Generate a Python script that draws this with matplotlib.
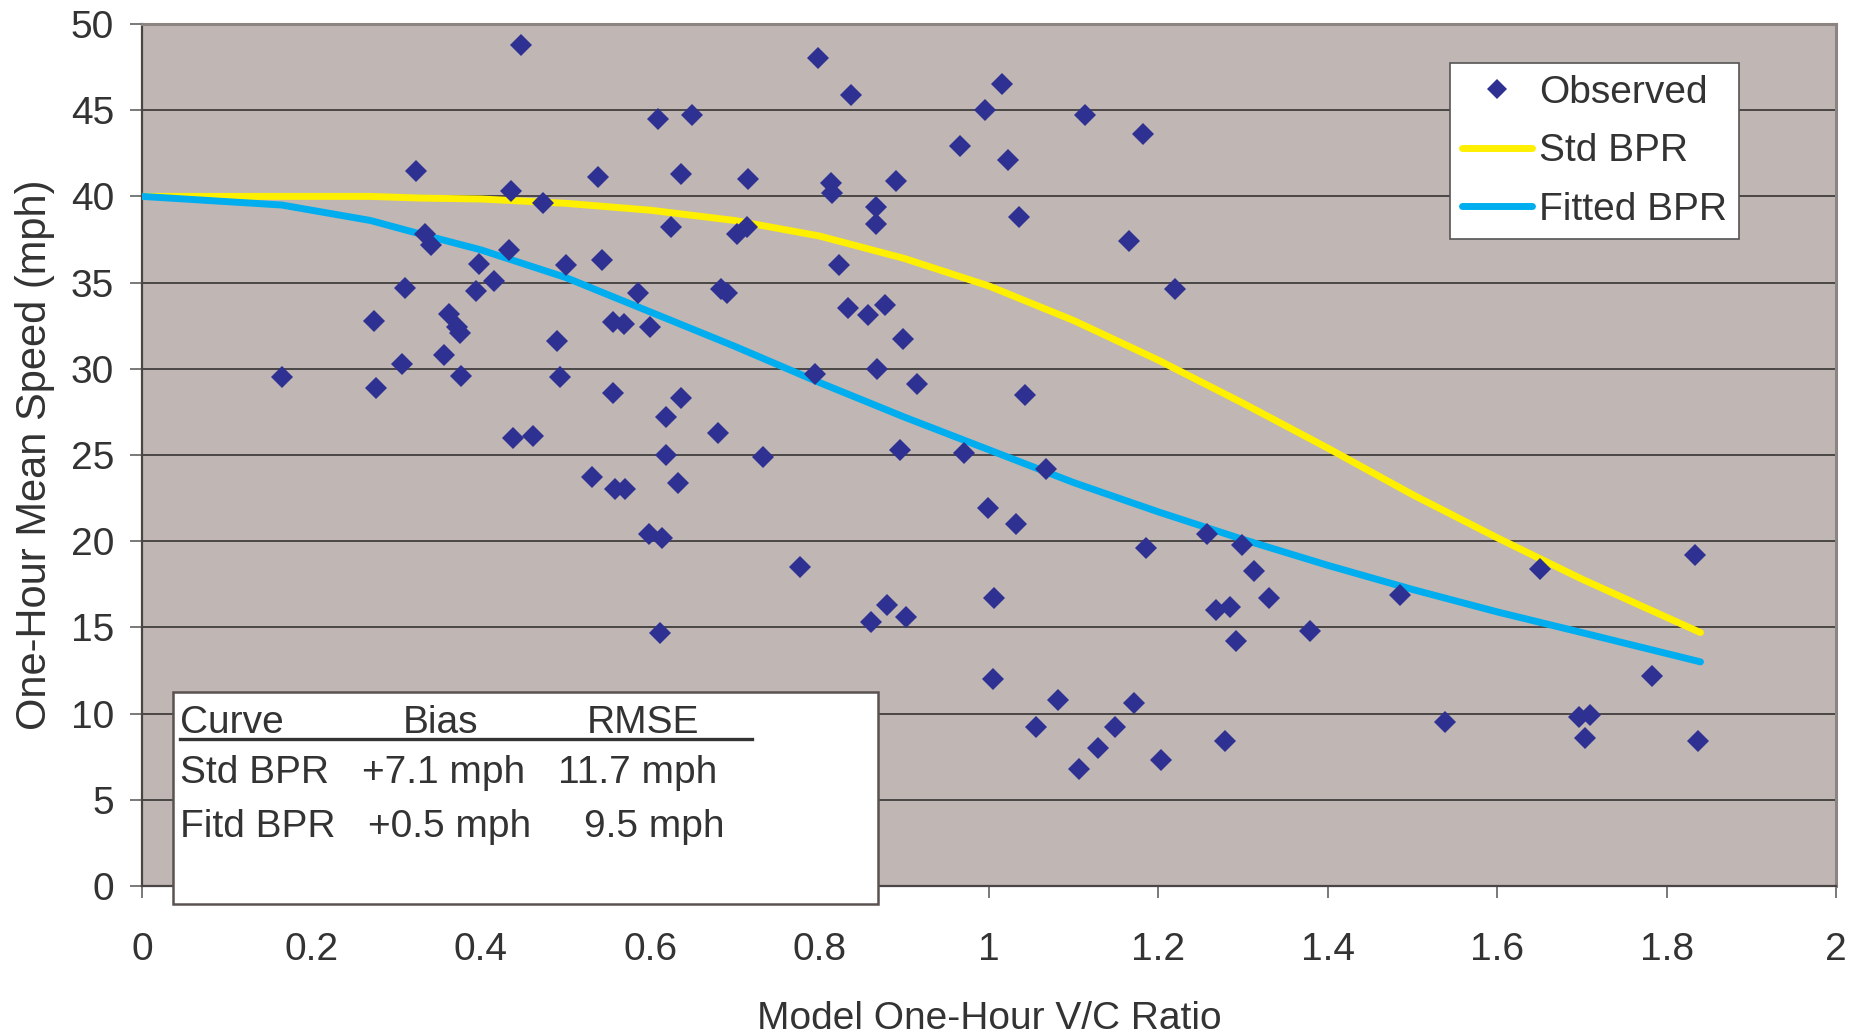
import matplotlib
matplotlib.use('Agg')
import matplotlib.pyplot as plt
from matplotlib.patches import Rectangle
from matplotlib.lines import Line2D

plt.rcParams['font.family'] = ['Liberation Sans', 'DejaVu Sans']

# ---------------- data ----------------
obs_x = [0.165, 0.274, 0.276, 0.307, 0.310, 0.324, 0.334, 0.341, 0.357, 0.363,
         0.372, 0.376, 0.377, 0.394, 0.398, 0.415, 0.433, 0.436, 0.438, 0.448,
         0.462, 0.474, 0.490, 0.494, 0.501, 0.531, 0.538, 0.543, 0.556, 0.556,
         0.559, 0.570, 0.569, 0.586, 0.600, 0.598, 0.609, 0.611, 0.614, 0.619,
         0.619, 0.624, 0.633, 0.636, 0.636, 0.649, 0.680, 0.684, 0.691, 0.702,
         0.714, 0.716, 0.733, 0.777, 0.795, 0.798, 0.814, 0.815, 0.823, 0.833,
         0.837, 0.857, 0.861, 0.866, 0.867, 0.868, 0.877, 0.880, 0.890, 0.895,
         0.899, 0.902, 0.915, 0.966, 0.970, 0.995, 0.999, 1.006, 1.005, 1.015,
         1.022, 1.032, 1.036, 1.043, 1.056, 1.067, 1.081, 1.106, 1.113, 1.129,
         1.149, 1.165, 1.171, 1.182, 1.185, 1.203, 1.220, 1.257, 1.268, 1.285,
         1.279, 1.292, 1.299, 1.313, 1.330, 1.379, 1.485, 1.538, 1.651, 1.697,
         1.709, 1.704, 1.783, 1.833, 1.837]
obs_y = [29.5, 32.8, 28.9, 30.3, 34.7, 41.5, 37.8, 37.2, 30.8, 33.2,
         32.4, 32.1, 29.6, 34.5, 36.1, 35.1, 36.9, 40.3, 26.0, 48.8,
         26.1, 39.6, 31.6, 29.5, 36.0, 23.7, 41.1, 36.3, 32.7, 28.6,
         23.0, 23.0, 32.6, 34.4, 32.4, 20.4, 44.5, 14.7, 20.2, 27.2,
         25.0, 38.2, 23.4, 28.3, 41.3, 44.7, 26.3, 34.6, 34.4, 37.8,
         38.2, 41.0, 24.9, 18.5, 29.7, 48.0, 40.8, 40.2, 36.0, 33.5,
         45.9, 33.1, 15.3, 39.4, 38.4, 30.0, 33.7, 16.3, 40.9, 25.3,
         31.7, 15.6, 29.1, 42.9, 25.1, 45.0, 21.9, 16.7, 12.0, 46.5,
         42.1, 21.0, 38.8, 28.5, 9.2, 24.2, 10.8, 6.8, 44.7, 8.0,
         9.2, 37.4, 10.6, 43.6, 19.6, 7.3, 34.6, 20.4, 16.0, 16.2,
         8.4, 14.2, 19.8, 18.3, 16.7, 14.8, 16.9, 9.5, 18.4, 9.8,
         9.9, 8.6, 12.2, 19.2, 8.4]

curve_x = [0, 0.165, 0.27, 0.33, 0.4, 0.5, 0.6, 0.7, 0.8, 0.9, 1.0,
           1.1, 1.2, 1.3, 1.4, 1.5, 1.6, 1.7, 1.84]
std_bpr = [40, 40, 40, 39.9, 39.85, 39.6, 39.2, 38.6, 37.7, 36.4, 34.8,
           32.8, 30.5, 28.0, 25.4, 22.7, 20.2, 17.8, 14.7]
fitted_bpr = [40, 39.5, 38.6, 37.8, 36.9, 35.3, 33.3, 31.3, 29.2, 27.2, 25.3,
              23.4, 21.7, 20.1, 18.6, 17.2, 15.9, 14.7, 13.0]

x_ticks = [0, 0.2, 0.4, 0.6, 0.8, 1.0, 1.2, 1.4, 1.6, 1.8, 2.0]
x_tick_labels = ['0', '0.2', '0.4', '0.6', '0.8', '1', '1.2', '1.4', '1.6', '1.8', '2']
y_ticks = [0, 5, 10, 15, 20, 25, 30, 35, 40, 45, 50]

table_header = ['Curve', 'Bias', 'RMSE']
table_curves = ['Std BPR', 'Fitd BPR']
table_bias = ['+7.1 mph', '+0.5 mph']
table_rmse = ['11.7 mph', '9.5 mph']

# ---------------- figure ----------------
W, H = 1869, 1036
fig = plt.figure(figsize=(W / 100, H / 100), dpi=100)
fig.patch.set_facecolor('white')

L, R, T, B = 142, 1836, 24, 886
ax = fig.add_axes([L / W, 1 - B / H, (R - L) / W, (B - T) / H])
ax.set_facecolor('#C0B6B3')

TXT = '#333333'
FS = 28

ax.set_xlim(0, 2)
ax.set_ylim(0, 50)
ax.set_xticks(x_ticks)
ax.set_xticklabels(x_tick_labels)
ax.set_yticks(y_ticks)
ax.yaxis.grid(True, color='#4A4646', linewidth=1.4)
ax.xaxis.grid(False)
ax.set_axisbelow(True)

ax.tick_params(axis='both', direction='out', length=8.6, width=1.1,
               color='#555555', labelsize=FS, labelcolor=TXT)
ax.tick_params(axis='x', pad=24.5)
ax.tick_params(axis='y', pad=11.5)

for s in ['left', 'bottom']:
    ax.spines[s].set_color('#4A4444')
    ax.spines[s].set_linewidth(1.6)
for s in ['top', 'right']:
    ax.spines[s].set_color('#8C8481')
    ax.spines[s].set_linewidth(2.2)

ax.plot(curve_x, std_bpr, color='#FFF000', lw=5.0, solid_capstyle='round',
        solid_joinstyle='round', label='Std BPR', zorder=3)
ax.plot(curve_x, fitted_bpr, color='#00AEEF', lw=5.0, solid_capstyle='round',
        solid_joinstyle='round', label='Fitted BPR', zorder=3)
ax.plot(obs_x, obs_y, linestyle='none', marker='D', ms=11.5, color='#2E3192',
        mec='#2E3192', mew=0, label='Observed', zorder=4)

handles, labels = ax.get_legend_handles_labels()
order = [2, 0, 1]
leg = ax.legend([handles[i] for i in order], [labels[i] for i in order],
                loc='upper left', bbox_to_anchor=((1450 - L) / (R - L), (B - 63) / (B - T)),
                borderaxespad=0, fontsize=FS, handlelength=1.8, handletextpad=0.2,
                borderpad=0.3, labelspacing=0.58, numpoints=1, markerscale=0.85,
                fancybox=False, framealpha=1, edgecolor='#555555')
leg.get_frame().set_linewidth(1.2)
for t in leg.get_texts():
    t.set_color(TXT)

ax.set_xlabel('Model One-Hour V/C Ratio', fontsize=FS, color=TXT, va='center')
ax.xaxis.set_label_coords(0.5, (B - 1019) / (B - T))
ax.set_ylabel('One-Hour Mean Speed (mph)', fontsize=30, color=TXT, va='center')
ax.yaxis.set_label_coords((35 - L) / (R - L), 0.5)

# ---------------- statistics table box ----------------
def fx(px):
    return px / W

def fy(py):
    return 1 - py / H

box = Rectangle((fx(173), fy(904)), (878 - 173) / W, (904 - 692) / H,
                transform=fig.transFigure, facecolor='white', edgecolor='#5A5250',
                linewidth=1.8, zorder=10)
fig.patches.append(box)

row_y = [733, 783, 837]
fig.text(fx(180), fy(row_y[0]), table_header[0], fontsize=FS, color=TXT,
         ha='left', va='baseline', zorder=11)
fig.text(fx(440), fy(row_y[0]), table_header[1], fontsize=FS, color=TXT,
         ha='center', va='baseline', zorder=11)
fig.text(fx(643), fy(row_y[0]), table_header[2], fontsize=FS, color=TXT,
         ha='center', va='baseline', zorder=11)
fig.add_artist(Line2D([fx(180), fx(752)], [fy(739), fy(739)], transform=fig.transFigure,
                      color='#333333', linewidth=2.4, zorder=11))
bias_x = [362, 368]
rmse_x = [558, 584]
for i in range(len(table_curves)):
    fig.text(fx(180), fy(row_y[i + 1]), table_curves[i], fontsize=FS, color=TXT,
             ha='left', va='baseline', zorder=11)
    fig.text(fx(bias_x[i]), fy(row_y[i + 1]), table_bias[i], fontsize=FS, color=TXT,
             ha='left', va='baseline', zorder=11)
    fig.text(fx(rmse_x[i]), fy(row_y[i + 1]), table_rmse[i], fontsize=FS, color=TXT,
             ha='left', va='baseline', zorder=11)

fig.savefig('out.png', dpi=100)
